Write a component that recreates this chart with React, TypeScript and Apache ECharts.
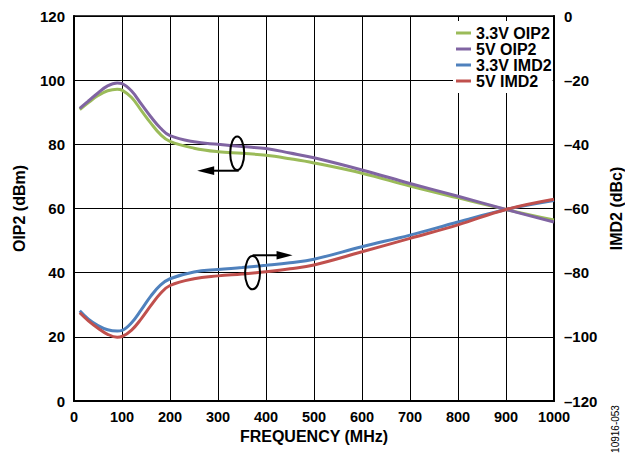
import React, { useEffect, useRef } from "react";
import * as echarts from "echarts";

const freqMHz = [12, 30, 50, 70, 90, 100, 120, 140, 160, 180, 200, 250, 300, 350, 400, 450, 500, 600, 700, 800, 900, 1000];
const oip2_3v3 = [90.8, 93.0, 95.2, 96.7, 97.2, 96.9, 94.6, 90.6, 86.6, 83.1, 80.9, 78.8, 77.7, 77.2, 76.6, 75.5, 74.2, 71.0, 67.0, 63.3, 59.7, 56.4];
const oip2_5v = [91.2, 93.5, 96.0, 98.2, 99.1, 98.9, 96.6, 92.6, 88.6, 85.1, 82.7, 80.8, 80.0, 79.3, 78.7, 77.3, 75.8, 72.0, 67.8, 63.8, 59.7, 55.8];
const imd2_3v3 = [-91.9, -94.5, -96.5, -97.8, -98.2, -98.0, -95.6, -91.6, -87.3, -83.9, -81.9, -79.8, -79.0, -78.4, -77.7, -76.9, -75.8, -71.9, -68.3, -64.2, -60.3, -57.5];
const imd2_5v = [-92.5, -95.0, -97.3, -99.2, -100.1, -99.9, -97.9, -94.4, -90.3, -86.5, -84.0, -81.9, -81.0, -80.4, -79.7, -78.8, -77.6, -73.5, -69.3, -65.1, -60.3, -57.1];

const seriesNames = ["3.3V OIP2", "5V OIP2", "3.3V IMD2", "5V IMD2"];
const seriesColors = ["#9BBB59", "#8064A2", "#4F81BD", "#C0504D"];

const xTicks = { min: 0, max: 1000, interval: 100 };
const leftTicks = { min: 0, max: 120, interval: 20 };
const rightTicks = { min: -120, max: 0, interval: 20 };

const FONT = "Arial, 'Liberation Sans', Helvetica, sans-serif";

export default function App() {
  const ref = useRef<HTMLDivElement>(null);

  useEffect(() => {
    if (!ref.current) return;
    const chart = echarts.init(ref.current, undefined, { renderer: "svg" });

    const pair = (ys: number[]) => freqMHz.map((f, i) => [f, ys[i]]);
    const allData = [oip2_3v3, oip2_5v, imd2_3v3, imd2_5v];

    const yLabelStyle = { color: "#000", fontWeight: "bold" as const, fontSize: 15, fontFamily: FONT };
    const xLabelStyle = { color: "#000", fontWeight: "bold" as const, fontSize: 14.5, fontFamily: FONT };
    const nameStyle = { color: "#000", fontWeight: "bold" as const, fontSize: 16, fontFamily: FONT };

    chart.setOption({
      animation: false,
      backgroundColor: "#fff",
      grid: {
        left: 74,
        right: 71,
        top: 16,
        bottom: 54,
        show: true,
        borderColor: "#000",
        borderWidth: 1.5,
        containLabel: false,
        outerBoundsMode: "none",
      },
      legend: {
        orient: "vertical",
        left: 453,
        top: 21,
        padding: [4, 1, 4, 3],
        itemGap: 0,
        itemWidth: 15,
        itemHeight: 3,
        icon: "rect",
        backgroundColor: "#fff",
        data: seriesNames,
        textStyle: { color: "#000", fontWeight: "bold", fontSize: 16, fontFamily: FONT, lineHeight: 14 },
      },
      xAxis: {
        type: "value",
        ...xTicks,
        name: "FREQUENCY (MHz)",
        nameLocation: "middle",
        nameGap: 26,
        nameTextStyle: nameStyle,
        axisLine: { show: true, lineStyle: { color: "#000", width: 2 } },
        axisTick: { show: false },
        axisLabel: { ...xLabelStyle, margin: 8, formatter: (v: number) => String(v) },
        splitLine: { show: true, lineStyle: { color: "#000", width: 1 } },
      },
      yAxis: [
        {
          type: "value",
          position: "left",
          ...leftTicks,
          name: "OIP2 (dBm)",
          nameLocation: "middle",
          nameGap: 47,
          nameRotate: 90,
          nameTextStyle: nameStyle,
          axisLine: { show: true, lineStyle: { color: "#000", width: 2 } },
          axisTick: { show: false },
          axisLabel: { ...yLabelStyle, margin: 9 },
          splitLine: { show: true, lineStyle: { color: "#000", width: 1 } },
        },
        {
          type: "value",
          position: "right",
          ...rightTicks,
          name: "IMD2 (dBc)",
          nameLocation: "middle",
          nameGap: 43,
          nameRotate: 90,
          nameTextStyle: nameStyle,
          axisLine: { show: true, lineStyle: { color: "#000", width: 2 } },
          axisTick: { show: false },
          axisLabel: {
            ...yLabelStyle,
            margin: 10,
            formatter: (v: number) => (v < 0 ? "\u2013" + Math.abs(v) : String(v)),
          },
          splitLine: { show: false },
        },
      ],
      series: seriesNames.map((name, i) => ({
        name,
        type: "line",
        yAxisIndex: i < 2 ? 0 : 1,
        data: pair(allData[i]),
        smooth: 0.4,
        showSymbol: false,
        symbol: "none",
        color: seriesColors[i],
        lineStyle: { color: seriesColors[i], width: 3 },
        z: 3,
      })),
    });

    const c1 = chart.convertToPixel({ gridIndex: 0 } as any, [340, 77.2]) as number[];
    const c2 = chart.convertToPixel({ gridIndex: 0 } as any, [372, 40.0]) as number[];
    const black = { stroke: "#000", lineWidth: 2, fill: "none" };
    chart.setOption({
      graphic: [
        { type: "ellipse", shape: { cx: c1[0], cy: c1[1], rx: 7, ry: 16.7 }, style: black, z: 10 },
        { type: "line", shape: { x1: c1[0] + 1.5, y1: c1[1] + 17.4, x2: c1[0] - 24, y2: c1[1] + 17.4 }, style: { stroke: "#000", lineWidth: 2 }, z: 10 },
        {
          type: "polygon",
          shape: { points: [[c1[0] - 40, c1[1] + 17.4], [c1[0] - 23, c1[1] + 13], [c1[0] - 23, c1[1] + 21.8]] },
          style: { fill: "#000" },
          z: 10,
        },
        { type: "ellipse", shape: { cx: c2[0], cy: c2[1], rx: 7.5, ry: 16.7 }, style: black, z: 10 },
        { type: "line", shape: { x1: c2[0], y1: c2[1] - 17.4, x2: c2[0] + 26, y2: c2[1] - 17.4 }, style: { stroke: "#000", lineWidth: 2 }, z: 10 },
        {
          type: "polygon",
          shape: { points: [[c2[0] + 40, c2[1] - 17.4], [c2[0] + 24, c2[1] - 21.7], [c2[0] + 24, c2[1] - 13.1]] },
          style: { fill: "#000" },
          z: 10,
        },
        {
          type: "text",
          x: 615,
          y: 429,
          rotation: Math.PI / 2,
          style: {
            text: "10916-053",
            fill: "#000",
            font: "10px " + FONT,
            align: "center",
            verticalAlign: "middle",
          },
          z: 10,
        },
      ],
    });

    return () => chart.dispose();
  }, []);

  return (
    <div
      ref={ref}
      style={{ position: "fixed", left: 0, top: 0, width: 625, height: 455 }}
    />
  );
}
